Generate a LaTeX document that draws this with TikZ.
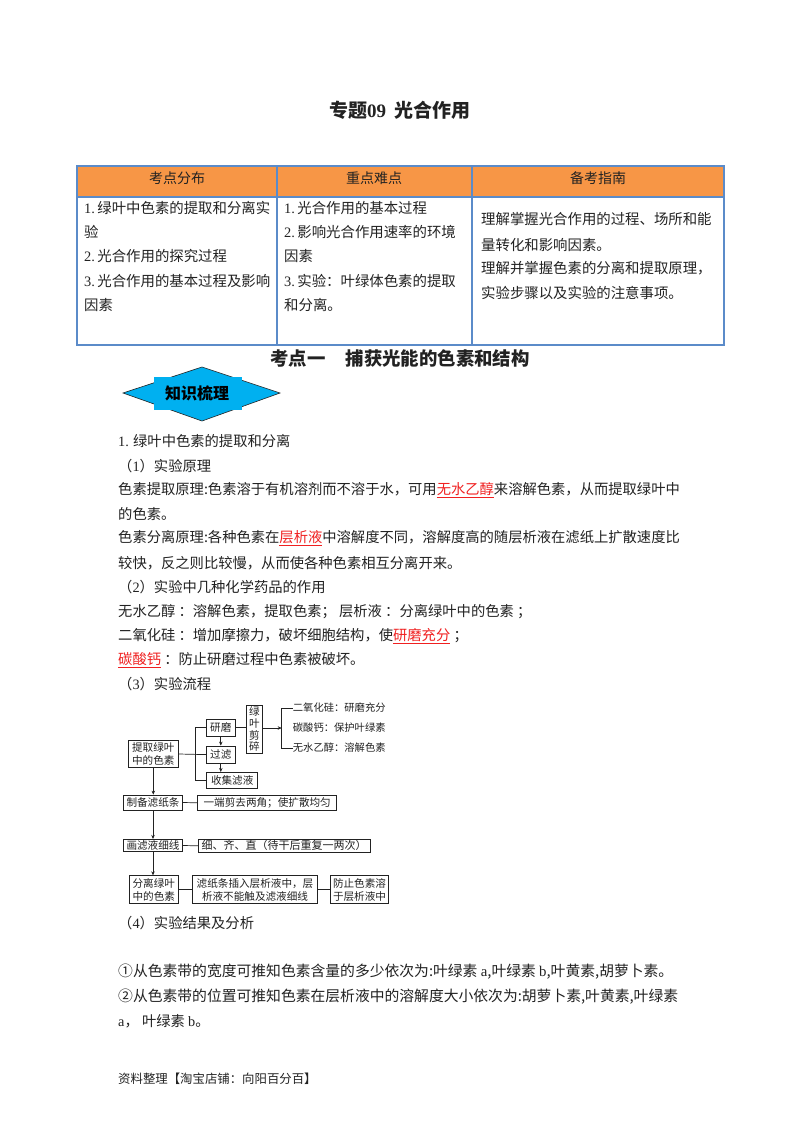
\documentclass[tikz,border=0pt]{standalone}
\usepackage{fontspec}
\setmainfont{Noto Sans CJK SC}
\newfontfamily\lat{Liberation Serif}
\definecolor{tblue}{HTML}{5B8BC9}
\definecolor{torange}{HTML}{F79646}
\definecolor{hexblue}{HTML}{00B0F0}
\definecolor{ink}{HTML}{222222}
\definecolor{redu}{HTML}{F02020}
\newcommand{\ru}[1]{\textcolor{redu}{\underline{#1}}}
\usetikzlibrary{arrows.meta}
\tikzset{
  x=1pt,y=-1pt,
  body/.style={anchor=west,inner sep=0pt,font=\fontsize{14.3}{15}\selectfont,text=ink},
  bodyw/.style={anchor=west,inner sep=0pt,font=\fontsize{14.8}{15}\selectfont,text=ink},
  cell/.style={anchor=west,inner sep=0pt,font=\fontsize{14.4}{15}\selectfont,text=ink},
  head/.style={inner sep=0pt,font=\fontsize{14}{15}\selectfont,text=ink},
  fb/.style={draw=ink,line width=.7pt,inner sep=0pt,align=center,font=\fontsize{10.6}{13}\selectfont,text=ink},
  fl/.style={anchor=west,inner sep=0pt,font=\fontsize{10.3}{13}\selectfont,text=ink},
  ln/.style={draw=ink,line width=.7pt},
  ar/.style={draw=ink,line width=.7pt,-{Stealth[length=4pt,width=3.5pt]}}
}
\begin{document}
\begin{tikzpicture}
\path[use as bounding box,fill=white] (0,0) rectangle (800,1132);
\node[inner sep=0pt,font=\bfseries\fontsize{19}{22}\selectfont,text=ink] (title) at (400,110) {专题{\lat 09}\hspace{.45em}光合作用};
% table
\fill[torange] (77,166) rectangle (724,197);
\draw[tblue,line width=1.2pt] (77,166) rectangle (724,345);
\draw[tblue,line width=1.2pt] (77,197) -- (724,197);
\draw[tblue,line width=1.2pt] (277,166) -- (277,345);
\draw[tblue,line width=1.2pt] (472,166) -- (472,345);
\node[head] (h1) at (177,178) {考点分布};
\node[head] (h2) at (374,178) {重点难点};
\node[head] (h3) at (598,178) {备考指南};
\node[cell] (a1) at (84,208) {{\lat 1.}\,绿叶中色素的提取和分离实};
\node[cell] (a2) at (84,232) {验};
\node[cell] (a3) at (84,256) {{\lat 2.}\,光合作用的探究过程};
\node[cell] (a4) at (84,281) {{\lat 3.}\,光合作用的基本过程及影响};
\node[cell] (a5) at (84,305) {因素};
\node[cell] (b1) at (284,208) {{\lat 1.}\,光合作用的基本过程};
\node[cell] (b2) at (284,232) {{\lat 2.}\,影响光合作用速率的环境};
\node[cell] (b3) at (284,256) {因素};
\node[cell] (b4) at (284,281) {{\lat 3.}\,实验：叶绿体色素的提取};
\node[cell] (b5) at (284,305) {和分离。};
\node[cell] (c1) at (481,219) {理解掌握光合作用的过程、场所和能};
\node[cell] (c2) at (481,245) {量转化和影响因素。};
\node[cell] (c3) at (481,268) {理解并掌握色素的分离和提取原理，};
\node[cell] (c4) at (481,293) {实验步骤以及实验的注意事项。};
\node[inner sep=0pt,font=\bfseries\fontsize{18.4}{22}\selectfont,text=ink] (sec) at (400,358) {考点一\hspace{1.1em}捕获光能的色素和结构};
% badge
\draw[fill=hexblue,draw=ink,line width=.6pt] (123,393) -- (202,367) -- (280,393) -- (202,421) -- cycle;
\fill[hexblue] (154,377) rectangle (242,410);
\node[inner sep=0pt,font=\bfseries\fontsize{16}{18}\selectfont] (badge) at (197,393) {知识梳理};
% body
\node[body] (l1) at (118,441) {{\lat 1.} 绿叶中色素的提取和分离};
\node[body] (l2) at (118,466) {（{\lat 1}）实验原理};
\node[body] (l3) at (118,490) {色素提取原理:色素溶于有机溶剂而不溶于水，可用\ru{无水乙醇}来溶解色素，从而提取绿叶中};
\node[body] (l4) at (118,514) {的色素。};
\node[body] (l5) at (118,538) {色素分离原理:各种色素在\ru{层析液}中溶解度不同，溶解度高的随层析液在滤纸上扩散速度比};
\node[body] (l6) at (118,563) {较快，反之则比较慢，从而使各种色素相互分离开来。};
\node[body] (l7) at (118,587) {（{\lat 2}）实验中几种化学药品的作用};
\node[body] (l8) at (118,612) {无水乙醇 ：溶解色素，提取色素； 层析液 ：分离绿叶中的色素 ；};
\node[body] (l9) at (118,636) {二氧化硅 ：增加摩擦力，破坏细胞结构，使\ru{研磨充分} ；};
\node[body] (l10) at (118,660) {\ru{碳酸钙} ：防止研磨过程中色素被破坏。};
\node[body] (l11) at (118,684) {（{\lat 3}）实验流程};
\node[body] (l12) at (118,923) {（{\lat 4}）实验结果及分析};
\node[bodyw] (l13) at (118,972) {①从色素带的宽度可推知色素含量的多少依次为:叶绿素 {\lat a},叶绿素 {\lat b},叶黄素,胡萝卜素。};
\node[bodyw] (l14) at (118,997) {②从色素带的位置可推知色素在层析液中的溶解度大小依次为:胡萝卜素,叶黄素,叶绿素};
\node[body] (l15) at (118,1021) {{\lat a}， 叶绿素 {\lat b}。};
\node[anchor=west,inner sep=0pt,font=\fontsize{12.4}{14}\selectfont,text=ink] (foot) at (118,1079) {资料整理【淘宝店铺：向阳百分百】};
% flow boxes
\node[fb,minimum width=50pt,minimum height=26.5pt] (tq) at (153.3,754) {提取绿叶\\中的色素};
\node[fb,minimum width=28.3pt,minimum height=17.7pt] (ym) at (220.8,727.8) {研磨};
\node[fb,minimum width=28.3pt,minimum height=17.3pt] (gl) at (220.8,754.6) {过滤};
\node[fb,minimum width=51pt,minimum height=16pt] (sj) at (232.2,780.3) {收集滤液};
\node[fb,minimum width=15.6pt,minimum height=48.3pt,text width=11pt,font=\fontsize{10.6}{11.6}\selectfont] (jy) at (254.5,729.2) {绿\\叶\\剪\\碎};
\node[fl] (r1) at (292.7,708) {二氧化硅：研磨充分};
\node[fl] (r2) at (292.7,728) {碳酸钙：保护叶绿素};
\node[fl] (r3) at (292.7,748) {无水乙醇：溶解色素};
\node[fb,minimum width=59.4pt,minimum height=15pt] (zb) at (153,802.5) {制备滤纸条};
\node[fb,minimum width=139pt,minimum height=15.7pt] (yd) at (267.2,802.8) {一端剪去两角；使扩散均匀};
\node[fb,minimum width=59.4pt,minimum height=12.4pt] (hl) at (153,845.5) {画滤液细线};
\node[fb,minimum width=171.7pt,minimum height=13pt,font=\fontsize{11}{13}\selectfont] (xq) at (284.2,845.8) {细、齐、直（待干后重复一两次）};
\node[fb,minimum width=49pt,minimum height=27.6pt] (fl) at (153.8,889.5) {分离绿叶\\中的色素};
\node[fb,minimum width=124.6pt,minimum height=27.6pt] (lz) at (255,889.5) {滤纸条插入层析液中，层\\析液不能触及滤液细线};
\node[fb,minimum width=57.6pt,minimum height=27.6pt] (fz) at (359.5,889.5) {防止色素溶\\于层析液中};
\coordinate (jl) at (195.7,754.6);
\coordinate (brk) at (281.7,728);
% connectors
\draw[ln] (tq.east) -- (gl.west);
\draw[ln] (jl) |- (ym.west);
\draw[ln] (jl) |- (sj.west);
\draw[ln] (ym.east) -- (ym.east -| jy.west);
\draw[ar] (ym.south) -- (gl.north);
\draw[ar] (gl.south) -- (gl.south |- sj.north);
\draw[ar] (jy.east |- brk) -- (brk);
\draw[ln] (r1.west) -- ++(-11,0) -- (r3.west -| brk) -- (r3.west);
\draw[ar] (tq.south) -- (tq.south |- zb.north);
\draw[ar] (zb.south) -- (hl.north);
\draw[ar] (hl.south) -- (hl.south |- fl.north);
\draw[ln] (zb.east) -- (yd.west);
\draw[ln] (hl.east) -- (xq.west);
\draw[ln] (fl.east) -- (lz.west);
\draw[ln] (lz.east) -- (fz.west);
\end{tikzpicture}
\end{document}
